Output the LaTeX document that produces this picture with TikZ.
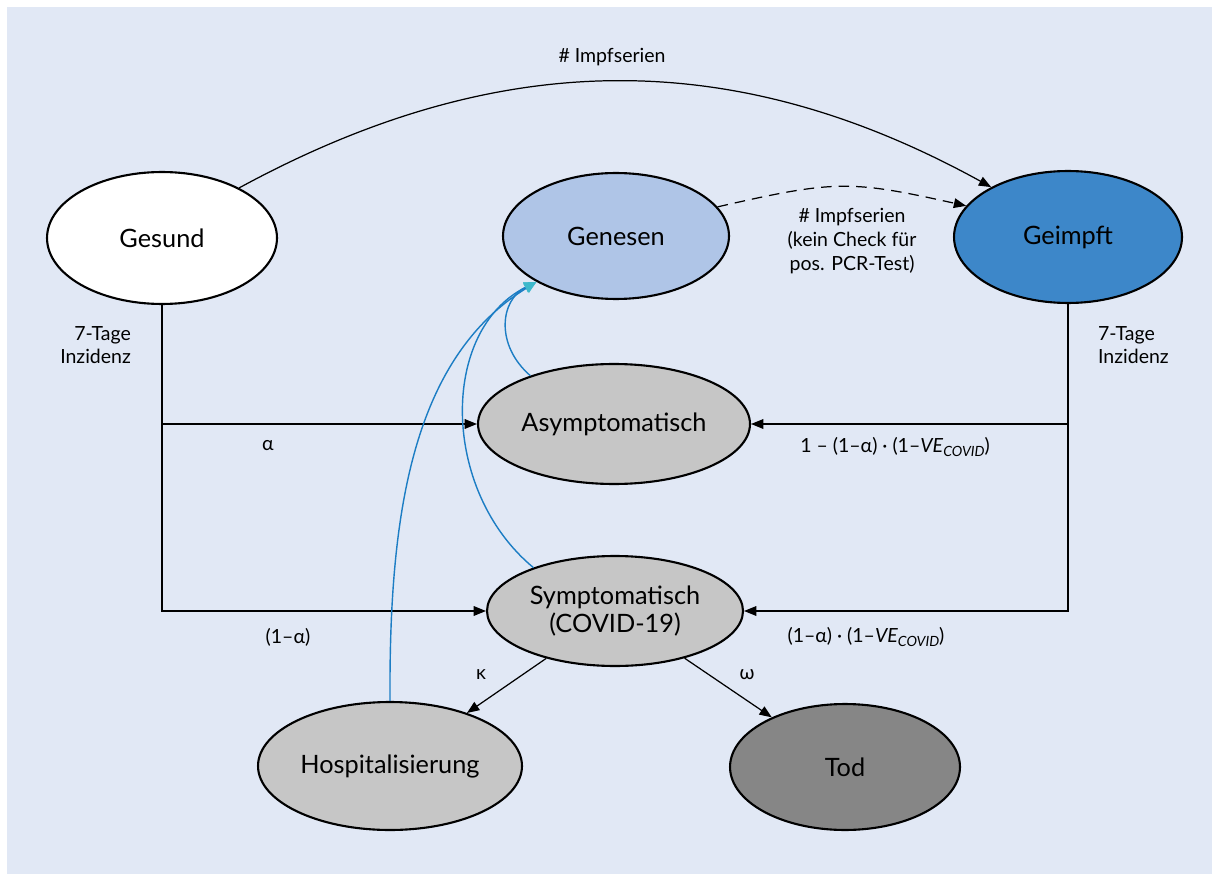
\documentclass[tikz,border=0pt]{standalone}
\usepackage{fontspec}
\setmainfont{Lato}
\usetikzlibrary{shapes.geometric,arrows.meta,positioning}

\definecolor{bgblue}{HTML}{E1E8F5}
\definecolor{genfill}{HTML}{AFC5E7}
\definecolor{impfill}{HTML}{3D87C9}
\definecolor{symfill}{HTML}{C6C6C6}
\definecolor{todfill}{HTML}{868686}
\definecolor{backline}{HTML}{1C7DC4}
\definecolor{backtip}{HTML}{3DB8CB}

\begin{document}
\begin{tikzpicture}[x=0.02cm,y=-0.02cm,
  state/.style={ellipse,draw,line width=1.2pt,align=center,inner sep=0pt,
    font=\fontsize{14.4}{16}\selectfont},
  flow/.style={-{Triangle[length=7pt,width=5.5pt]},line width=0.7pt},
  back/.style={draw=backline,line width=0.8pt,
    -{Triangle[length=7pt,width=6pt,color=backtip,fill=backtip]}},
  lab/.style={font=\fontsize{11.1}{13.5}\selectfont,inner sep=1pt}]
\def\ve{\textit{VE}\raisebox{-0.35ex}{\fontsize{8}{8}\selectfont\textit{COVID}}}
  \useasboundingbox (0,0) rectangle (1212,874);
  \fill[bgblue] (7,7) rectangle (1212,874);
% states
\node[state,fill=white,minimum width=4.6cm,minimum height=2.64cm] (gesund) at (162,238) {Gesund};
\node[state,fill=genfill,minimum width=4.52cm,minimum height=2.52cm] (genesen) at (616,236) {Genesen};
\node[state,fill=impfill,minimum width=4.56cm,minimum height=2.64cm] (geimpft) at (1068,237) {Geimpft};
\node[state,fill=symfill,minimum width=5.44cm,minimum height=2.4cm] (asym) at (614,424) {Asymptomatisch};
\node[state,fill=symfill,minimum width=5.12cm,minimum height=2.2cm] (sym) at (615,611) {Symptomatisch\\(COVID-19)};
\node[state,fill=symfill,minimum width=5.28cm,minimum height=2.56cm] (hosp) at (390,766) {Hospitalisierung};
\node[state,fill=todfill,minimum width=4.6cm,minimum height=2.52cm] (tod) at (845,767) {Tod};
% vaccination
\draw[flow] (gesund.33) .. controls (500,46) and (735,46) .. (geimpft.147);
\node[lab] (impf) at (612,57) {\# Impfserien};
\draw[flow,dashed,dash pattern=on 6pt off 4pt] (genesen.16) .. controls (835,180) and (850,180) .. (geimpft.163);
\node[lab,align=center] (impfgen) at (852,241) {\# Impfserien\\(kein Check für\\pos. PCR-Test)};
% infections
\draw[flow] (gesund.south) |- (sym.west);
\draw[flow] (gesund.south |- asym.west) -- (asym.west);
\draw[flow] (geimpft.south) |- (sym.east);
\draw[flow] (geimpft.south |- asym.east) -- (asym.east);
\node[lab,align=right,anchor=east] (inzl) at (133,345) {7-Tage\\Inzidenz};
\node[lab,align=left,anchor=west] (inzr) at (1096,345) {7-Tage\\Inzidenz};
\node[lab] (alpha) at (268,446) {α};
\node[lab] (onealpha) at (288,637) {(1–α)};
\node[lab] (veasym) at (895,447) {1 – (1–α) · (1–\ve)};
\node[lab] (vesym) at (866,637) {(1–α) · (1–\ve)};
% outcomes
\draw[flow] (sym) -- (hosp);
\draw[flow] (sym) -- (tod);
\node[lab] (kappa) at (481,675) {κ};
\node[lab] (omega) at (747,675) {ω};
% recovery
\draw[back] (asym.150) .. controls (495,345) and (500,300) .. (genesen.210);
\draw[back] (sym.152) .. controls (440,490) and (440,330) .. (genesen.210);
\draw[back] (hosp.north) .. controls (389,520) and (410,360) .. (genesen.210);
\end{tikzpicture}
\end{document}
